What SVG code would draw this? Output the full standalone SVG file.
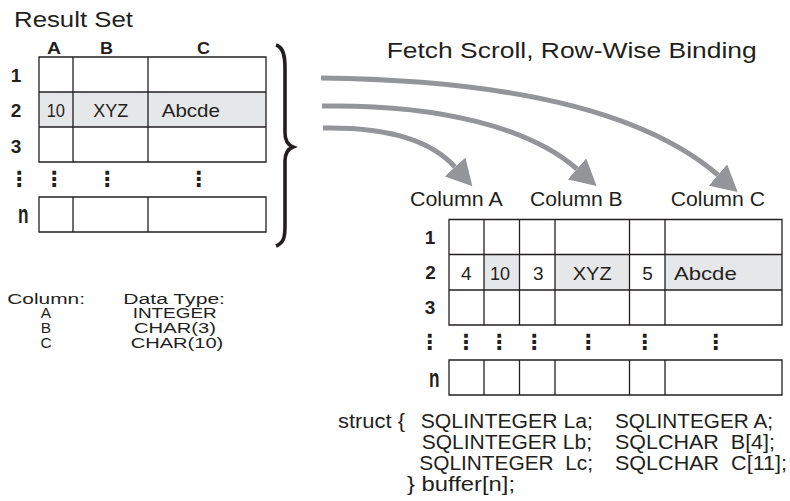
<svg xmlns="http://www.w3.org/2000/svg" width="790" height="501" viewBox="0 0 790 501">
<defs>
<style>
.t{font-family:"Liberation Sans",Arial,sans-serif;fill:#231f20}
.b{font-family:"Liberation Sans",Arial,sans-serif;font-weight:900;fill:#231f20}
.d{font-family:"DejaVu Sans",sans-serif;font-weight:bold;fill:#231f20;font-size:21px;text-anchor:middle}
.g{fill:none;stroke:#231f20;stroke-width:1.3}
.sh{fill:#e6e7e8}
.c{fill:none;stroke:#939598;stroke-width:5}
.pre{white-space:pre}
</style>
<marker id="ah" markerUnits="userSpaceOnUse" markerWidth="27" markerHeight="28" refX="0" refY="14" orient="auto">
<path d="M0,0 L26,14 L0,28 z" fill="#939598"/>
</marker>
</defs>
<rect width="790" height="501" fill="#ffffff"/>

<g id="result-set">
<text class="t" x="14" y="27" font-size="22.5" textLength="119" lengthAdjust="spacingAndGlyphs">Result Set</text>
<text class="b" x="47" y="54" font-size="16" textLength="14" lengthAdjust="spacingAndGlyphs">A</text>
<text class="b" x="100" y="54" font-size="16" textLength="13" lengthAdjust="spacingAndGlyphs">B</text>
<text class="b" x="197" y="54" font-size="16" textLength="13" lengthAdjust="spacingAndGlyphs">C</text>
<rect class="sh" x="39" y="92" width="227" height="35"/>
<path class="g" d="M39,57 H266 V162 H39 Z M39,92 H266 M39,127 H266 M73,57 V162 M148,57 V162"/>
<path class="g" d="M39,197 H266 V232 H39 Z M73,197 V232 M148,197 V232"/>
<text class="b" x="16" y="82" font-size="19" text-anchor="middle">1</text>
<text class="b" x="16" y="117" font-size="19" text-anchor="middle">2</text>
<text class="b" x="16" y="153" font-size="19" text-anchor="middle">3</text>
<text class="b" x="18" y="223" font-size="25" textLength="10.5" lengthAdjust="spacingAndGlyphs">n</text>
<text class="d" x="19" y="186">⋮</text>
<text class="d" x="54" y="186">⋮</text>
<text class="d" x="107" y="186">⋮</text>
<text class="d" x="198.5" y="186">⋮</text>
<text class="t" x="46.7" y="117" font-size="19" textLength="18.3" lengthAdjust="spacingAndGlyphs">10</text>
<text class="t" x="93.3" y="117" font-size="19" textLength="35" lengthAdjust="spacingAndGlyphs">XYZ</text>
<text class="t" x="161.7" y="117" font-size="19" textLength="58.3" lengthAdjust="spacingAndGlyphs">Abcde</text>
</g>

<g id="brace">
<path d="M276,45 C283,47 285,55 285,68 L285,133 C285,141 288,145 293,147 C288,149 285,153 285,161 L285,226 C285,239 283,243 276,246" fill="none" stroke="#231f20" stroke-width="3.6"/>
</g>

<g id="title">
<text class="t" x="386.7" y="58" font-size="22.5" textLength="370" lengthAdjust="spacingAndGlyphs">Fetch Scroll, Row-Wise Binding</text>
</g>

<g id="connectors">
<path class="c" d="M321,78 C500,80 640,108 718,175" marker-end="url(#ah)"/>
<path class="c" d="M322,106 C440,104 530,128 577,169" marker-end="url(#ah)"/>
<path class="c" d="M323,128 C380,127 428,137 455,167" marker-end="url(#ah)"/>
</g>

<g id="buffer">
<text class="t" x="410" y="206" font-size="20" textLength="92.7" lengthAdjust="spacingAndGlyphs">Column A</text>
<text class="t" x="530" y="206" font-size="20" textLength="92.7" lengthAdjust="spacingAndGlyphs">Column B</text>
<text class="t" x="670.7" y="206" font-size="20" textLength="94.3" lengthAdjust="spacingAndGlyphs">Column C</text>
<rect class="sh" x="484" y="254.5" width="35.5" height="35.5"/>
<rect class="sh" x="555" y="254.5" width="74.5" height="35.5"/>
<rect class="sh" x="665" y="254.5" width="117" height="35.5"/>
<path class="g" d="M449,219.5 H782 V325 H449 Z M449,254.5 H782 M449,290 H782 M484,219.5 V325 M519.5,219.5 V325 M555,219.5 V325 M629.5,219.5 V325 M665,219.5 V325"/>
<path class="g" d="M449,360 H782 V395 H449 Z M484,360 V395 M519.5,360 V395 M555,360 V395 M629.5,360 V395 M665,360 V395"/>
<text class="b" x="430" y="243.5" font-size="19" text-anchor="middle">1</text>
<text class="b" x="430.5" y="279" font-size="19" text-anchor="middle">2</text>
<text class="b" x="430" y="314" font-size="19" text-anchor="middle">3</text>
<text class="b" x="429" y="386.5" font-size="25" textLength="10.5" lengthAdjust="spacingAndGlyphs">n</text>
<text class="d" x="429.5" y="349">⋮</text>
<text class="d" x="465.7" y="349">⋮</text>
<text class="d" x="499" y="349">⋮</text>
<text class="d" x="534" y="349">⋮</text>
<text class="d" x="588" y="349">⋮</text>
<text class="d" x="644.5" y="349">⋮</text>
<text class="d" x="715.5" y="349">⋮</text>
<text class="t" x="466.2" y="280" font-size="19" text-anchor="middle">4</text>
<text class="t" x="490" y="280" font-size="19" textLength="20" lengthAdjust="spacingAndGlyphs">10</text>
<text class="t" x="538.3" y="280" font-size="19" text-anchor="middle">3</text>
<text class="t" x="572.7" y="280" font-size="19" textLength="39" lengthAdjust="spacingAndGlyphs">XYZ</text>
<text class="t" x="647.5" y="280" font-size="19" text-anchor="middle">5</text>
<text class="t" x="674" y="280" font-size="19" textLength="62.7" lengthAdjust="spacingAndGlyphs">Abcde</text>
</g>

<g id="data-types">
<text class="t" x="7.3" y="303.5" font-size="15.5" textLength="77.7" lengthAdjust="spacingAndGlyphs">Column:</text>
<text class="t" x="46" y="318.3" font-size="15.5" text-anchor="middle">A</text>
<text class="t" x="46" y="333.3" font-size="15.5" text-anchor="middle">B</text>
<text class="t" x="46" y="348.3" font-size="15.5" text-anchor="middle">C</text>
<text class="t" x="123.3" y="303.5" font-size="15.5" textLength="101.7" lengthAdjust="spacingAndGlyphs">Data Type:</text>
<text class="t" x="132.7" y="318.3" font-size="15.5" textLength="84" lengthAdjust="spacingAndGlyphs">INTEGER</text>
<text class="t" x="134" y="333.3" font-size="15.5" textLength="82" lengthAdjust="spacingAndGlyphs">CHAR(3)</text>
<text class="t" x="130.7" y="348.3" font-size="15.5" textLength="92.6" lengthAdjust="spacingAndGlyphs">CHAR(10)</text>
</g>

<g id="struct">
<text class="t" x="338" y="428" font-size="20" textLength="67" lengthAdjust="spacingAndGlyphs">struct {</text>
<text class="t" x="420.7" y="428" font-size="20" textLength="172.3" lengthAdjust="spacingAndGlyphs">SQLINTEGER La;</text>
<text class="t" x="615" y="428" font-size="20" textLength="158" lengthAdjust="spacingAndGlyphs">SQLINTEGER A;</text>
<text class="t" x="421.7" y="449" font-size="20" textLength="170.3" lengthAdjust="spacingAndGlyphs">SQLINTEGER Lb;</text>
<text class="t pre" x="615" y="449" font-size="20" textLength="160" lengthAdjust="spacingAndGlyphs">SQLCHAR  B[4];</text>
<text class="t pre" x="419.3" y="470" font-size="20" textLength="173.7" lengthAdjust="spacingAndGlyphs">SQLINTEGER  Lc;</text>
<text class="t pre" x="615" y="470" font-size="20" textLength="172" lengthAdjust="spacingAndGlyphs">SQLCHAR  C[11];</text>
<text class="t" x="407" y="491" font-size="20" textLength="108" lengthAdjust="spacingAndGlyphs">} buffer[n];</text>
</g>
</svg>
